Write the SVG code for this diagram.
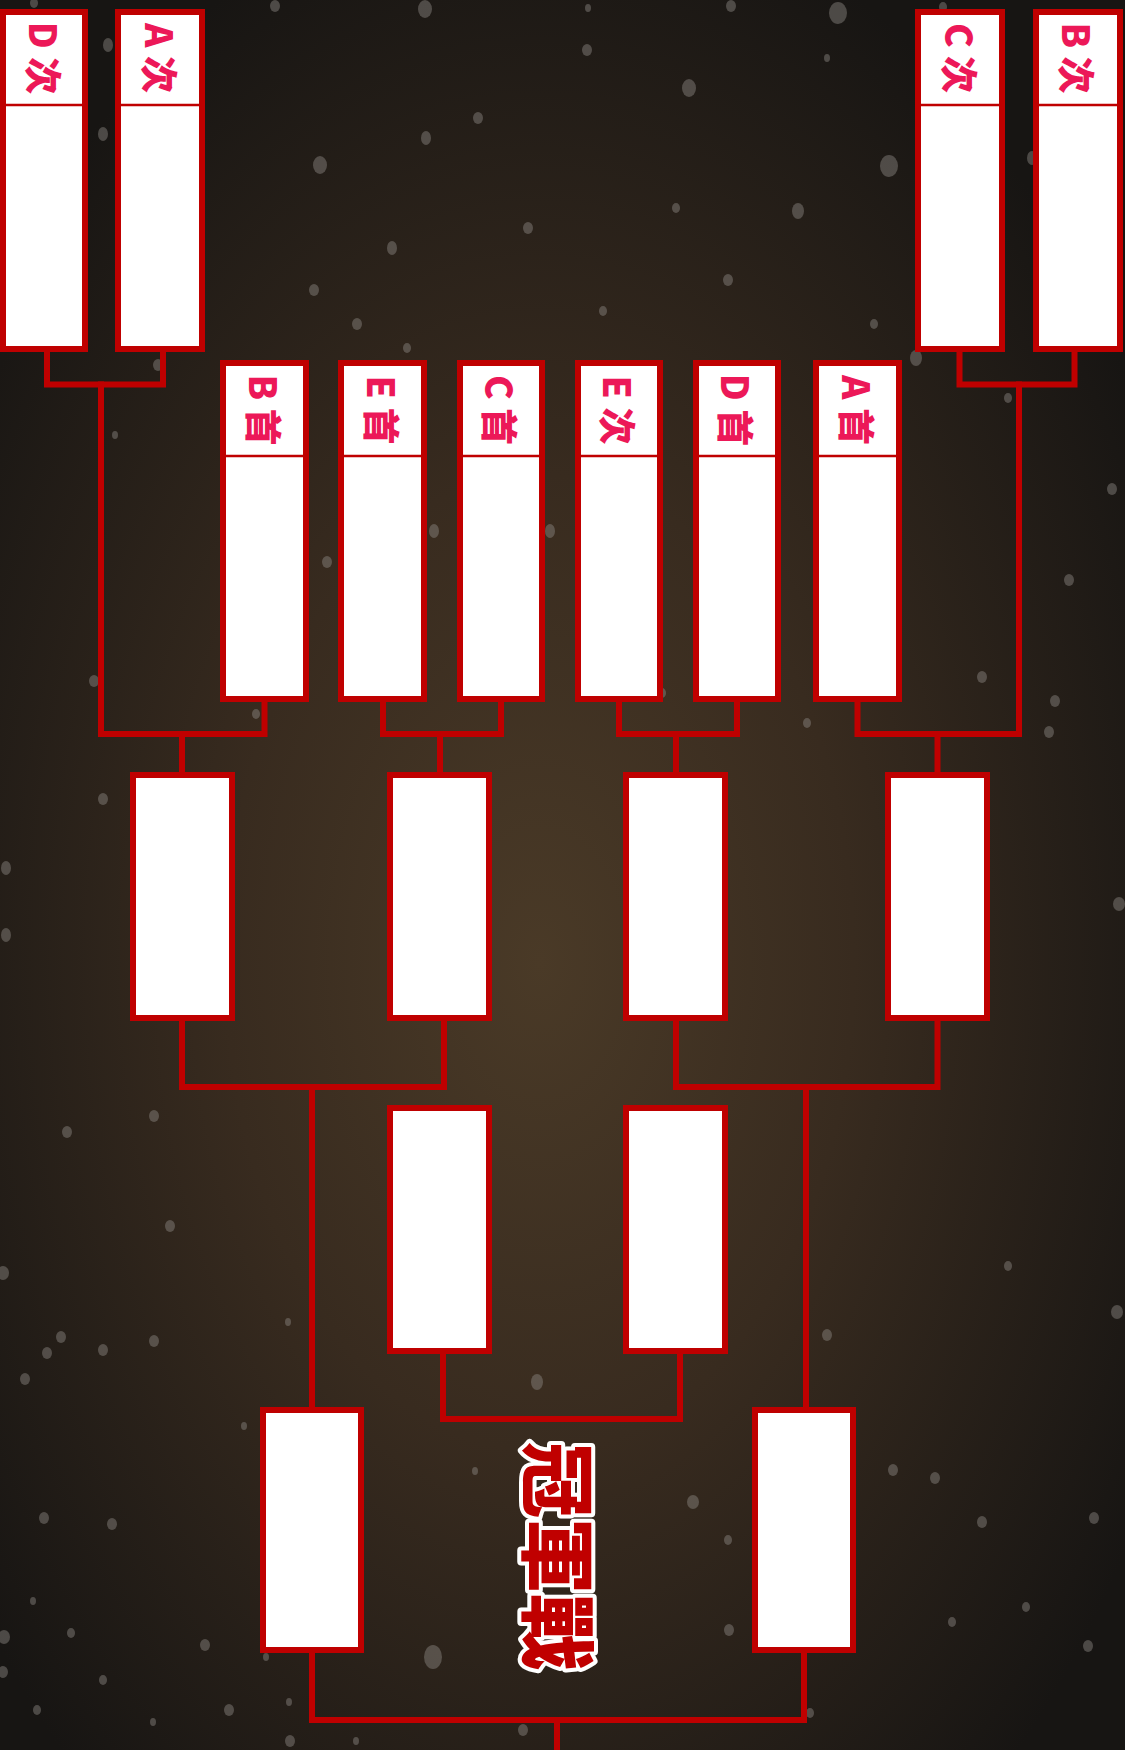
<svg xmlns="http://www.w3.org/2000/svg" width="1125" height="1750" viewBox="0 0 1125 1750">
<defs>
<radialGradient id="bg" cx="0.48" cy="0.55" r="0.62">
<stop offset="0" stop-color="#4a3a27"/>
<stop offset="0.45" stop-color="#382b1f"/>
<stop offset="1" stop-color="#171513"/>
</radialGradient>
<style>
.box{fill:#fff;stroke:#bf0000;stroke-width:6}
.inner{fill:none;stroke:#f3b5b5;stroke-width:1}
.div{stroke:#c00000;stroke-width:2.5}
.lbl{font-family:"Noto Sans CJK SC","Noto Sans",sans-serif;font-weight:900;font-size:37px;fill:#ec1858;text-anchor:middle;dominant-baseline:central}
.title{font-family:"Noto Sans CJK TC","Noto Sans CJK SC",sans-serif;font-weight:900;font-size:76px;fill:#c00000;stroke:#fff;stroke-width:8;stroke-linejoin:round;paint-order:stroke;text-anchor:middle;dominant-baseline:central}
.wire{fill:none;stroke:#bf0000;stroke-width:6;stroke-linejoin:miter;stroke-linecap:square}
.dot{fill:#8e8a85;fill-opacity:0.45}
</style>
</defs>
<rect width="1125" height="1750" fill="url(#bg)"/>
<g id="bokeh">
<ellipse class="dot" cx="34" cy="3" rx="4" ry="5"/>
<ellipse class="dot" cx="275" cy="6" rx="5" ry="6"/>
<ellipse class="dot" cx="425" cy="9" rx="7" ry="9"/>
<ellipse class="dot" cx="588" cy="8" rx="3" ry="4"/>
<ellipse class="dot" cx="731" cy="6" rx="5" ry="6"/>
<ellipse class="dot" cx="838" cy="13" rx="9" ry="11"/>
<ellipse class="dot" cx="943" cy="7" rx="4" ry="5"/>
<ellipse class="dot" cx="108" cy="45" rx="5" ry="7"/>
<ellipse class="dot" cx="103" cy="134" rx="5" ry="7"/>
<ellipse class="dot" cx="320" cy="165" rx="7" ry="9"/>
<ellipse class="dot" cx="426" cy="138" rx="5" ry="7"/>
<ellipse class="dot" cx="478" cy="118" rx="5" ry="6"/>
<ellipse class="dot" cx="587" cy="50" rx="5" ry="6"/>
<ellipse class="dot" cx="689" cy="88" rx="7" ry="9"/>
<ellipse class="dot" cx="889" cy="166" rx="9" ry="11"/>
<ellipse class="dot" cx="827" cy="58" rx="3" ry="4"/>
<ellipse class="dot" cx="798" cy="211" rx="6" ry="8"/>
<ellipse class="dot" cx="676" cy="208" rx="4" ry="5"/>
<ellipse class="dot" cx="528" cy="228" rx="5" ry="6"/>
<ellipse class="dot" cx="392" cy="248" rx="5" ry="7"/>
<ellipse class="dot" cx="314" cy="290" rx="5" ry="6"/>
<ellipse class="dot" cx="357" cy="324" rx="5" ry="6"/>
<ellipse class="dot" cx="407" cy="348" rx="4" ry="5"/>
<ellipse class="dot" cx="603" cy="311" rx="4" ry="5"/>
<ellipse class="dot" cx="728" cy="280" rx="5" ry="6"/>
<ellipse class="dot" cx="874" cy="324" rx="4" ry="5"/>
<ellipse class="dot" cx="916" cy="358" rx="6" ry="8"/>
<ellipse class="dot" cx="1032" cy="158" rx="5" ry="7"/>
<ellipse class="dot" cx="1008" cy="398" rx="4" ry="5"/>
<ellipse class="dot" cx="158" cy="365" rx="5" ry="6"/>
<ellipse class="dot" cx="115" cy="435" rx="3" ry="4"/>
<ellipse class="dot" cx="94" cy="681" rx="5" ry="6"/>
<ellipse class="dot" cx="1112" cy="489" rx="5" ry="6"/>
<ellipse class="dot" cx="1069" cy="580" rx="5" ry="6"/>
<ellipse class="dot" cx="982" cy="677" rx="5" ry="6"/>
<ellipse class="dot" cx="1055" cy="701" rx="5" ry="6"/>
<ellipse class="dot" cx="1049" cy="732" rx="5" ry="6"/>
<ellipse class="dot" cx="256" cy="714" rx="4" ry="5"/>
<ellipse class="dot" cx="434" cy="531" rx="5" ry="7"/>
<ellipse class="dot" cx="550" cy="531" rx="5" ry="7"/>
<ellipse class="dot" cx="327" cy="562" rx="5" ry="6"/>
<ellipse class="dot" cx="807" cy="723" rx="4" ry="5"/>
<ellipse class="dot" cx="662" cy="693" rx="4" ry="5"/>
<ellipse class="dot" cx="6" cy="868" rx="5" ry="7"/>
<ellipse class="dot" cx="6" cy="935" rx="5" ry="7"/>
<ellipse class="dot" cx="103" cy="799" rx="5" ry="6"/>
<ellipse class="dot" cx="1119" cy="904" rx="6" ry="7"/>
<ellipse class="dot" cx="154" cy="1116" rx="5" ry="6"/>
<ellipse class="dot" cx="67" cy="1132" rx="5" ry="6"/>
<ellipse class="dot" cx="170" cy="1226" rx="5" ry="6"/>
<ellipse class="dot" cx="3" cy="1273" rx="6" ry="7"/>
<ellipse class="dot" cx="61" cy="1337" rx="5" ry="6"/>
<ellipse class="dot" cx="47" cy="1353" rx="5" ry="6"/>
<ellipse class="dot" cx="103" cy="1350" rx="5" ry="6"/>
<ellipse class="dot" cx="154" cy="1341" rx="5" ry="6"/>
<ellipse class="dot" cx="25" cy="1379" rx="5" ry="6"/>
<ellipse class="dot" cx="288" cy="1322" rx="3" ry="4"/>
<ellipse class="dot" cx="827" cy="1335" rx="5" ry="6"/>
<ellipse class="dot" cx="1117" cy="1312" rx="6" ry="7"/>
<ellipse class="dot" cx="1008" cy="1266" rx="4" ry="5"/>
<ellipse class="dot" cx="244" cy="1426" rx="3" ry="4"/>
<ellipse class="dot" cx="475" cy="1471" rx="3" ry="4"/>
<ellipse class="dot" cx="537" cy="1382" rx="6" ry="8"/>
<ellipse class="dot" cx="693" cy="1502" rx="6" ry="7"/>
<ellipse class="dot" cx="728" cy="1540" rx="4" ry="5"/>
<ellipse class="dot" cx="893" cy="1470" rx="5" ry="6"/>
<ellipse class="dot" cx="935" cy="1478" rx="5" ry="6"/>
<ellipse class="dot" cx="982" cy="1522" rx="5" ry="6"/>
<ellipse class="dot" cx="1094" cy="1518" rx="5" ry="6"/>
<ellipse class="dot" cx="44" cy="1518" rx="5" ry="6"/>
<ellipse class="dot" cx="112" cy="1524" rx="5" ry="6"/>
<ellipse class="dot" cx="4" cy="1637" rx="6" ry="7"/>
<ellipse class="dot" cx="33" cy="1601" rx="3" ry="4"/>
<ellipse class="dot" cx="71" cy="1633" rx="4" ry="5"/>
<ellipse class="dot" cx="205" cy="1645" rx="5" ry="6"/>
<ellipse class="dot" cx="229" cy="1710" rx="5" ry="6"/>
<ellipse class="dot" cx="266" cy="1657" rx="3" ry="4"/>
<ellipse class="dot" cx="289" cy="1702" rx="3" ry="4"/>
<ellipse class="dot" cx="433" cy="1657" rx="9" ry="12"/>
<ellipse class="dot" cx="523" cy="1730" rx="5" ry="6"/>
<ellipse class="dot" cx="729" cy="1630" rx="5" ry="6"/>
<ellipse class="dot" cx="952" cy="1622" rx="4" ry="5"/>
<ellipse class="dot" cx="1026" cy="1607" rx="4" ry="5"/>
<ellipse class="dot" cx="1088" cy="1646" rx="5" ry="6"/>
<ellipse class="dot" cx="810" cy="1713" rx="4" ry="5"/>
<ellipse class="dot" cx="3" cy="1672" rx="5" ry="6"/>
<ellipse class="dot" cx="103" cy="1680" rx="4" ry="5"/>
<ellipse class="dot" cx="290" cy="1741" rx="5" ry="6"/>
<ellipse class="dot" cx="37" cy="1710" rx="4" ry="5"/>
<ellipse class="dot" cx="153" cy="1722" rx="3" ry="4"/>
<ellipse class="dot" cx="356" cy="1741" rx="3" ry="4"/>
</g>
<g id="connectors">
<path class="wire" d="M47,352 V384.5 H163 V352"/>
<path class="wire" d="M101,384.5 V734 H264.5 V702"/>
<path class="wire" d="M182,734 V772"/>
<path class="wire" d="M383,702 V734 H501 V702"/>
<path class="wire" d="M440,734 V772"/>
<path class="wire" d="M619,702 V734 H737 V702"/>
<path class="wire" d="M676,734 V772"/>
<path class="wire" d="M959.5,352 V384.5 H1074.5 V352"/>
<path class="wire" d="M1019,384.5 V734 H857.5 V702"/>
<path class="wire" d="M937.5,734 V772"/>
<path class="wire" d="M182,1021 V1087 H444 V1021"/>
<path class="wire" d="M312,1087 V1407"/>
<path class="wire" d="M676,1021 V1087 H937.5 V1021"/>
<path class="wire" d="M806,1087 V1407"/>
<path class="wire" d="M443,1354 V1419 H680 V1354"/>
<path class="wire" d="M312,1653 V1720 H804 V1653"/>
<path class="wire" d="M557,1720 V1753"/>
</g>
<g id="r1-D2">
<rect class="box" x="3" y="12" width="82" height="337"/>
<line class="div" x1="6" y1="105" x2="82" y2="105"/>
<text class="lbl" transform="translate(45,58) rotate(90)">D 次</text>
</g>
<g id="r1-A2">
<rect class="box" x="118" y="12" width="84" height="337"/>
<line class="div" x1="121" y1="105" x2="199" y2="105"/>
<text class="lbl" transform="translate(161,58) rotate(90)">A 次</text>
</g>
<g id="r1-C2">
<rect class="box" x="918" y="12" width="84" height="337"/>
<line class="div" x1="921" y1="105" x2="999" y2="105"/>
<text class="lbl" transform="translate(961,58) rotate(90)">C 次</text>
</g>
<g id="r1-B2">
<rect class="box" x="1036" y="12" width="84" height="337"/>
<line class="div" x1="1039" y1="105" x2="1117" y2="105"/>
<text class="lbl" transform="translate(1078,58) rotate(90)">B 次</text>
</g>
<g id="r2-B1">
<rect class="box" x="223" y="363" width="83" height="336"/>
<line class="div" x1="226" y1="456" x2="303" y2="456"/>
<text class="lbl" transform="translate(265,410) rotate(90)">B 首</text>
</g>
<g id="r2-E1">
<rect class="box" x="341" y="363" width="83" height="336"/>
<line class="div" x1="344" y1="456" x2="421" y2="456"/>
<text class="lbl" transform="translate(383,410) rotate(90)">E 首</text>
</g>
<g id="r2-C1">
<rect class="box" x="460" y="363" width="82" height="336"/>
<line class="div" x1="463" y1="456" x2="539" y2="456"/>
<text class="lbl" transform="translate(501,410) rotate(90)">C 首</text>
</g>
<g id="r2-E2">
<rect class="box" x="578" y="363" width="82" height="336"/>
<line class="div" x1="581" y1="456" x2="657" y2="456"/>
<text class="lbl" transform="translate(619,410) rotate(90)">E 次</text>
</g>
<g id="r2-D1">
<rect class="box" x="696" y="363" width="82" height="336"/>
<line class="div" x1="699" y1="456" x2="775" y2="456"/>
<text class="lbl" transform="translate(737,410) rotate(90)">D 首</text>
</g>
<g id="r2-A1">
<rect class="box" x="816" y="363" width="83" height="336"/>
<line class="div" x1="819" y1="456" x2="896" y2="456"/>
<text class="lbl" transform="translate(857.5,410) rotate(90)">A 首</text>
</g>
<g id="r3-1"><rect class="box" x="133" y="775" width="99" height="243"/></g>
<g id="r3-2"><rect class="box" x="390" y="775" width="99" height="243"/></g>
<g id="r3-3"><rect class="box" x="626" y="775" width="99" height="243"/></g>
<g id="r3-4"><rect class="box" x="888" y="775" width="99" height="243"/></g>
<g id="r4-1"><rect class="box" x="390" y="1108" width="99" height="243"/></g>
<g id="r4-2"><rect class="box" x="626" y="1108" width="99" height="243"/></g>
<g id="r5-1"><rect class="box" x="263" y="1410" width="98" height="240"/></g>
<g id="r5-2"><rect class="box" x="755" y="1410" width="98" height="240"/></g>
<g id="title">
<text class="title" transform="translate(562,1556) rotate(90)">冠軍戰</text>
</g>
</svg>
